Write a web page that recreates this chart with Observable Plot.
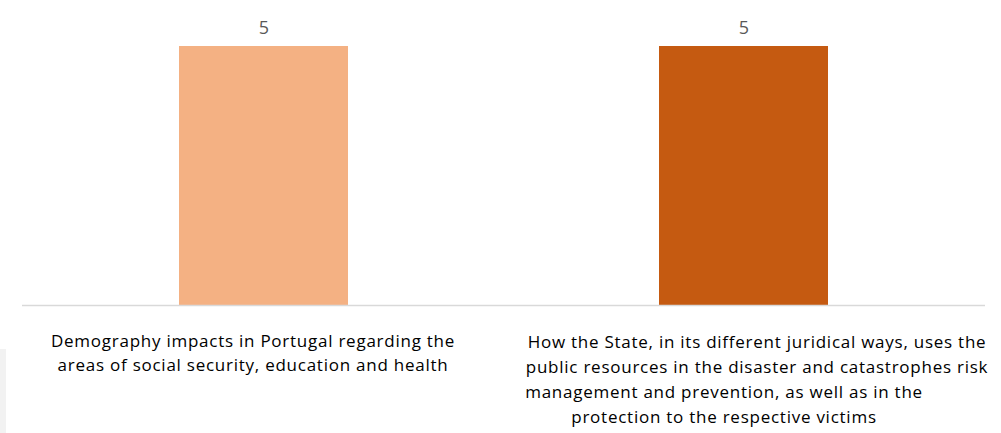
<!DOCTYPE html>
<html>
<head>
<meta charset="utf-8">
<script src="https://cdn.jsdelivr.net/npm/d3@7"></script>
<script src="https://cdn.jsdelivr.net/npm/@observablehq/plot@0.6"></script>
<style>
  html, body { margin: 0; padding: 0; background: #fff; }
  #chart { position: relative; width: 1001px; height: 433px; }
  #edge { position: absolute; left: 0; top: 349px; width: 6px; height: 84px; background: #f2f2f2; }
  .catlabel text { letter-spacing: 0.75px; }
</style>
</head>
<body>
<div id="chart"><div id="edge"></div></div>
<script>
const categories = [
  "Demography impacts in Portugal regarding the areas of social security, education and health",
  "How the State, in its different juridical ways, uses the public resources in the disaster and catastrophes risk management and prevention, as well as in the protection to the respective victims"
];
const values = [5, 5];
const colors = ["#F4B183", "#C55A11"];
const labelLines = [
  ["Demography impacts in Portugal regarding the", "areas of social security, education and health"],
  ["How the State, in its different juridical ways, uses the", "public resources in the disaster and catastrophes risk", "management and prevention, as well as in the", "protection to the respective victims"]
];

const data = categories.map((c, i) => ({category: c, value: values[i], color: colors[i]}));
const lines = labelLines.flatMap((ls, i) => ls.map((t, r) => ({category: categories[i], text: t, row: r, group: i})));

const font = "'Open Sans', sans-serif";

const marks = [];
[0,1,2,3].forEach(r => {
  marks.push(Plot.text(lines.filter(d => d.row === r && d.group === 0), {
    x: "category", y: () => 0, text: "text", dy: 36 + r * 24.5, dx: -11,
    fontSize: 17, fill: "#000", lineAnchor: "middle", fontFamily: font, className: "catlabel"
  }));
  marks.push(Plot.text(lines.filter(d => d.row === r && d.group === 1), {
    x: "category", y: () => 0, text: "text", dy: 37 + r * 25, dx: r < 2 ? 13 : -20,
    fontSize: 17, fill: "#000", lineAnchor: "middle", fontFamily: font, className: "catlabel"
  }));
});

const plot = Plot.plot({
  width: 1001,
  height: 433,
  marginLeft: 22,
  marginRight: 16,
  marginTop: 46,
  marginBottom: 128,
  style: {fontFamily: font, background: "transparent"},
  x: {domain: categories, paddingInner: 0.647, paddingOuter: 0.325, axis: null},
  y: {domain: [0, 5], axis: null},
  marks: [
    Plot.barY(data, {x: "category", y: "value", fill: d => d.color}),
    Plot.ruleY([0], {stroke: "#d9d9d9", strokeWidth: 1.3}),
    Plot.text(data, {x: "category", y: "value", text: d => String(d.value), dy: -18, fontSize: 18, fill: "#595959", fontFamily: font}),
    ...marks
  ]
});
plot.style.position = "absolute";
plot.style.left = "0";
plot.style.top = "0";
document.getElementById("chart").appendChild(plot);
</script>
</body>
</html>
